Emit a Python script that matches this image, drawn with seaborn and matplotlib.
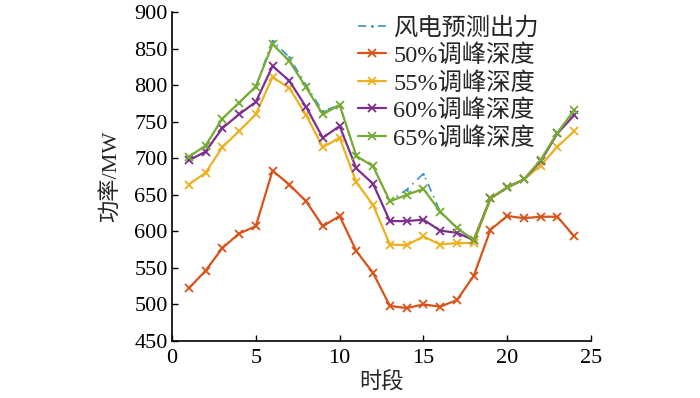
import matplotlib
matplotlib.use("Agg")
import matplotlib.pyplot as plt
import seaborn as sns
import pandas as pd

hours = list(range(1, 25))
forecast = [702, 717, 754, 776, 798, 861, 838, 800, 764, 773, 703, 689,
            641, 657, 679, 627, 604, 588, 645, 660, 671, 697, 735, 766]
depth50 = [522, 546, 577, 597, 607, 683, 664, 641, 607, 621, 573, 543,
           498, 495, 500, 497, 506, 539, 602, 621, 618, 620, 620, 593]
depth55 = [664, 680, 715, 737, 760, 811, 796, 759, 715, 728, 667, 636,
           582, 581, 593, 582, 584, 584, 645, 660, 671, 690, 716, 737]
depth60 = [697, 709, 741, 760, 777, 826, 806, 770, 728, 744, 686, 665,
           614, 614, 616, 601, 598, 588, 645, 660, 671, 696, 734, 759]
depth65 = [702, 717, 754, 776, 798, 856, 833, 797, 760, 773, 703, 689,
           641, 650, 658, 627, 605, 588, 645, 660, 671, 698, 735, 766]

labels = ["风电预测出力", "50%调峰深度", "55%调峰深度", "60%调峰深度", "65%调峰深度"]
series = [forecast, depth50, depth55, depth60, depth65]
colors = ["#3C8FD8", "#D95319", "#EDB120", "#7E2F8E", "#77AC30"]

sns.set_style("ticks")
plt.rcParams['font.family'] = ['Liberation Serif', 'Noto Sans CJK SC']
plt.rcParams['axes.unicode_minus'] = False

fig = plt.figure(figsize=(7, 3.98), dpi=100)
ax = fig.add_axes([0.2457, 0.1432, 0.8443 - 0.2457, 0.9698 - 0.1432])

for i in range(5):
    df = pd.DataFrame({"t": hours, "v": series[i]})
    if i == 0:
        sns.lineplot(data=df, x="t", y="v", ax=ax, color=colors[i], lw=1.2,
                     linestyle=(0, (5, 3, 1, 3)), marker='.', markersize=4,
                     markeredgewidth=0, label=labels[i], zorder=2)
    else:
        sns.lineplot(data=df, x="t", y="v", ax=ax, color=colors[i], lw=1.6,
                     marker='x', markersize=5.5, markeredgewidth=1.3,
                     markeredgecolor=colors[i], label=labels[i], zorder=3)

ax.set_xlim(0, 25)
ax.set_ylim(450, 900)
ax.set_xticks(range(0, 26, 5))
ax.set_yticks(range(450, 901, 50))
ax.tick_params(direction='in', labelsize=16, length=4, width=1, colors='black', pad=3)
ax.tick_params(axis='x', pad=6)
for sp in ['top', 'right']:
    ax.spines[sp].set_visible(False)
for sp in ['left', 'bottom']:
    ax.spines[sp].set_linewidth(1.2)
    ax.spines[sp].set_color('black')
ax.set_xlabel("时段", fontsize=16, labelpad=3)
ax.set_ylabel("功率/MW", fontsize=16, labelpad=10)

leg = ax.legend(loc='upper left', bbox_to_anchor=(0.444, 0.985), frameon=False,
                fontsize=17.5, borderpad=0, borderaxespad=0, handlelength=1.15,
                handletextpad=0.3, labelspacing=0.2)

fig.savefig("out.png", dpi=100)
